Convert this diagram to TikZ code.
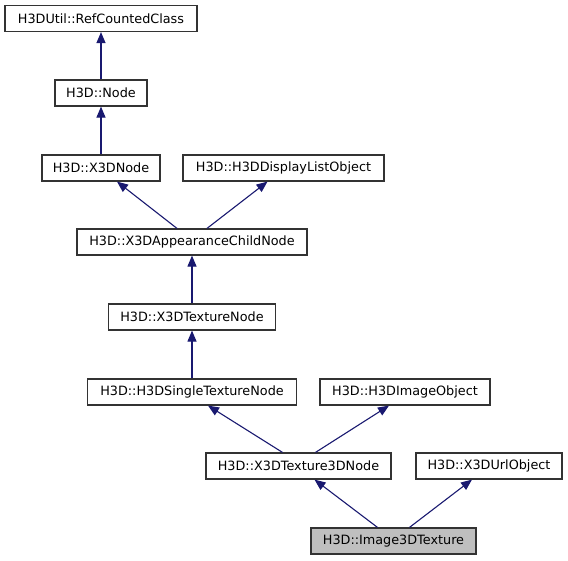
\documentclass[tikz,border=0pt]{standalone}
\usepackage{fontspec}
\setmainfont{DejaVu Sans}
\usetikzlibrary{arrows.meta}
\definecolor{edgeblue}{HTML}{191970}
\definecolor{boxgray}{HTML}{333333}
\tikzset{
  cls/.style={draw=boxgray, line width=1.2pt, fill=white, inner sep=0pt,
    minimum height=26pt, font=\fontsize{12.8}{14}\selectfont},
  cur/.style={cls, fill=black!25},
  edge/.style={draw=edgeblue, line width=1.1pt, -{Triangle[length=11pt,width=9pt]}}
}
\begin{document}
\begin{tikzpicture}[x=1pt,y=-1pt]
        \useasboundingbox (0,0) rectangle (568,560);
        \node[cls, minimum width=192pt] (rcc) at (101,18.5) {H3DUtil::RefCountedClass};
        \node[cls, minimum width=92pt] (node) at (101,93) {H3D::Node};
        \node[cls, minimum width=118pt] (x3dnode) at (101,168) {H3D::X3DNode};
        \node[cls, minimum width=201pt] (dlo) at (283.5,168) {H3D::H3DDisplayListObject};
        \node[cls, minimum width=230pt] (appch) at (192,242) {H3D::X3DAppearanceChildNode};
        \node[cls, minimum width=167pt] (tex) at (192,317) {H3D::X3DTextureNode};
        \node[cls, minimum width=209pt] (single) at (192,392) {H3D::H3DSingleTextureNode};
        \node[cls, minimum width=170pt] (imgobj) at (405,392) {H3D::H3DImageObject};
        \node[cls, minimum width=185pt] (tex3d) at (298.5,466) {H3D::X3DTexture3DNode};
        \node[cls, minimum width=146pt] (url) at (489,466) {H3D::X3DUrlObject};
        \node[cur, minimum width=165pt] (img3d) at (393.5,541) {H3D::Image3DTexture};

        \draw[edge] (node.north) -- (rcc.south);
        \draw[edge] (x3dnode.north) -- (node.south);
        \draw[edge] ([xshift=-15pt]appch.north) -- ([xshift=16pt]x3dnode.south);
        \draw[edge] ([xshift=15pt]appch.north) -- ([xshift=-16pt]dlo.south);
        \draw[edge] (tex.north) -- (appch.south);
        \draw[edge] (single.north) -- (tex.south);
        \draw[edge] ([xshift=-16pt]tex3d.north) -- ([xshift=16pt]single.south);
        \draw[edge] ([xshift=17pt]tex3d.north) -- ([xshift=-16pt]imgobj.south);
        \draw[edge] ([xshift=-16pt]img3d.north) -- ([xshift=16pt]tex3d.south);
        \draw[edge] ([xshift=16pt]img3d.north) -- ([xshift=-17pt]url.south);
\end{tikzpicture}
\end{document}
